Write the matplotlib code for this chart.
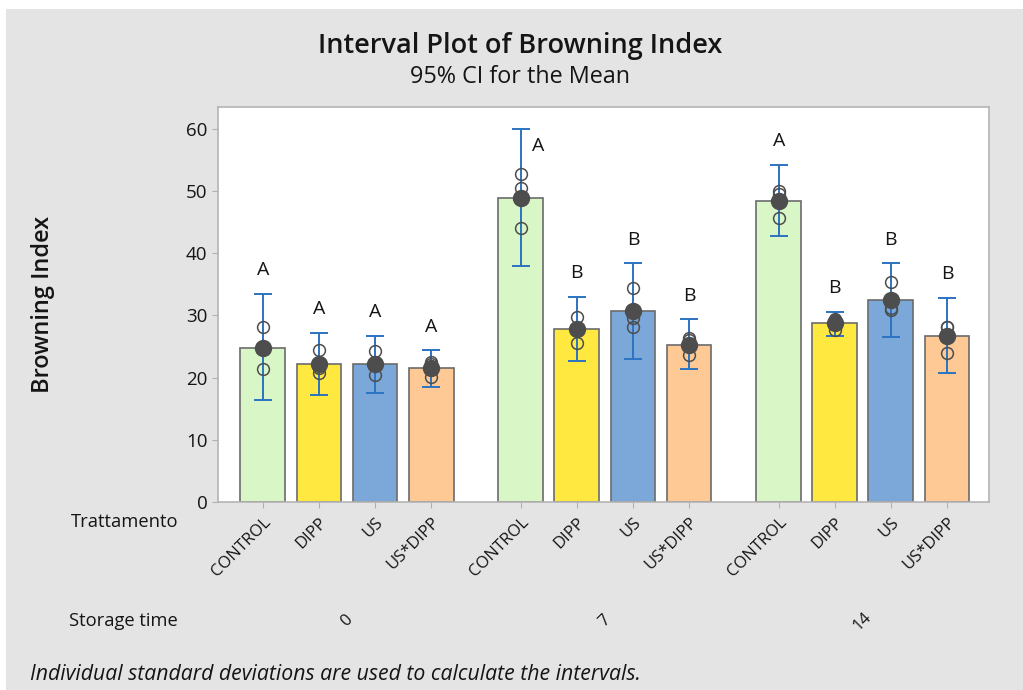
import numpy as np
import matplotlib
matplotlib.use("Agg")
import matplotlib.pyplot as plt
import matplotlib.transforms as mtransforms
from matplotlib.patches import Rectangle

plt.rcParams["font.family"] = ["Open Sans", "DejaVu Sans"]

# data
storage_times = ["0", "7", "14"]
treatments = ["CONTROL", "DIPP", "US", "US*DIPP"]
bar_colors = ["#d9f6c6", "#ffe941", "#7ba7d9", "#ffc995"]

means_0 = [24.8, 22.2, 22.2, 21.6]
means_7 = [48.9, 27.8, 30.7, 25.3]
means_14 = [48.4, 28.8, 32.5, 26.7]

ci_low_0 = [16.4, 17.2, 17.5, 18.5]
ci_high_0 = [33.5, 27.2, 26.7, 24.4]
ci_low_7 = [38.0, 22.7, 23.0, 21.4]
ci_high_7 = [60.0, 33.0, 38.4, 29.4]
ci_low_14 = [42.8, 26.7, 26.5, 20.7]
ci_high_14 = [54.2, 30.6, 38.4, 32.8]

points_0 = [[28.1, 24.9, 21.4], [24.4, 21.5, 20.7], [24.3, 22.0, 20.4], [22.5, 22.2, 20.1]]
points_7 = [[52.8, 50.5, 44.1], [29.8, 28.0, 25.6], [34.4, 29.6, 28.1], [26.0, 26.3, 23.6]]
points_14 = [[50.0, 49.5, 45.7], [29.3, 29.4, 27.7], [35.4, 31.2, 30.9], [28.1, 28.1, 23.9]]

letters_0 = ["A", "A", "A", "A"]
letters_7 = ["A", "B", "B", "B"]
letters_14 = ["A", "B", "B", "B"]

means = [means_0, means_7, means_14]
ci_low = [ci_low_0, ci_low_7, ci_low_14]
ci_high = [ci_high_0, ci_high_7, ci_high_14]
points = [points_0, points_7, points_14]
letters = [letters_0, letters_7, letters_14]

W, H = 1023, 690
fig = plt.figure(figsize=(W / 100, H / 100), dpi=100, facecolor="white")
fig.patches.append(Rectangle((6 / W, 0), 1 - 6 / W, 1 - 9 / H, transform=fig.transFigure,
                             facecolor="#e4e4e4", edgecolor="none", zorder=-10))

ax = fig.add_axes([218 / W, 1 - 502 / H, (989 - 218) / W, (502 - 107) / H])
ax.set_facecolor("white")

GROUP_STEP = 4.6
ymax = 63.5
err_color = "#2b73c2"
dot_color = "#4d4d4d"
txt = "#151515"

xticks = []
xlabels = []
for g in range(len(storage_times)):
    x = g * GROUP_STEP + np.arange(len(treatments))
    xticks.extend(x)
    xlabels.extend(treatments)
    ax.bar(x, means[g], width=0.8, color=bar_colors, edgecolor="#6b6b6b", linewidth=1.2, zorder=2)
    m = np.array(means[g])
    lo = m - np.array(ci_low[g])
    hi = np.array(ci_high[g]) - m
    ax.errorbar(x, m, yerr=[lo, hi], fmt="none", ecolor=err_color, elinewidth=1.4,
                capsize=6.5, capthick=1.4, zorder=3)
    for i in range(len(treatments)):
        ax.plot([x[i]] * len(points[g][i]), points[g][i], "o", ms=8.5, mfc="none",
                mec=dot_color, mew=1.1, zorder=4)
    ax.plot(x, m, "o", ms=11.5, color=dot_color, zorder=5)
    for i, lab in enumerate(letters[g]):
        if ci_high[g][i] + 5 > ymax:
            ax.annotate(lab, (x[i], ci_high[g][i]), xytext=(12.5, -12.5), textcoords="offset points",
                        ha="center", va="center", fontsize=14, color=txt)
        else:
            ax.annotate(lab, (x[i], ci_high[g][i]), xytext=(0, 17), textcoords="offset points",
                        ha="center", va="center", fontsize=14, color=txt)

ax.set_xlim(-0.8, 12.95)
ax.set_ylim(0, ymax)
ax.set_yticks([0, 10, 20, 30, 40, 50, 60])
ax.set_xticks(xticks)
ax.set_xticklabels(xlabels, rotation=45, ha="right", va="top", rotation_mode="anchor", fontsize=12)
ax.tick_params(axis="y", labelsize=13.5, length=4, color="#b0b0b0", labelcolor=txt)
ax.tick_params(axis="x", length=4, color="#b0b0b0", labelcolor=txt, pad=5)
for s in ax.spines.values():
    s.set_color("#b4b4b4")
    s.set_linewidth(1.2)

ax.set_ylabel("Browning Index", fontsize=17, color=txt, fontweight="semibold")
ax.yaxis.set_label_coords(-0.211, 0.5)

# storage time group labels
trans = mtransforms.blended_transform_factory(ax.transData, fig.transFigure)
for g, st in enumerate(storage_times):
    xc = g * GROUP_STEP + (len(treatments) - 1) / 2
    ax.text(xc, 1 - 621 / H, st, transform=trans, rotation=45, ha="center", va="center",
            fontsize=12, color=txt)

fig.text(178 / W, 1 - 522 / H, "Trattamento", ha="right", va="center", fontsize=13.2, color=txt)
fig.text(178 / W, 1 - 621 / H, "Storage time", ha="right", va="center", fontsize=13.2, color=txt)

fig.text(520 / W, 1 - 46 / H, "Interval Plot of Browning Index", ha="center", va="center",
         fontsize=19.5, color=txt, fontweight="semibold")
fig.text(520 / W, 1 - 77 / H, "95% CI for the Mean", ha="center", va="center",
         fontsize=16.8, color=txt)
fig.text(30 / W, 1 - 674 / H, "Individual standard deviations are used to calculate the intervals.",
         ha="left", va="center", fontsize=15.3, style="italic", color=txt)

fig.savefig("out.png", dpi=100, facecolor=fig.get_facecolor())
